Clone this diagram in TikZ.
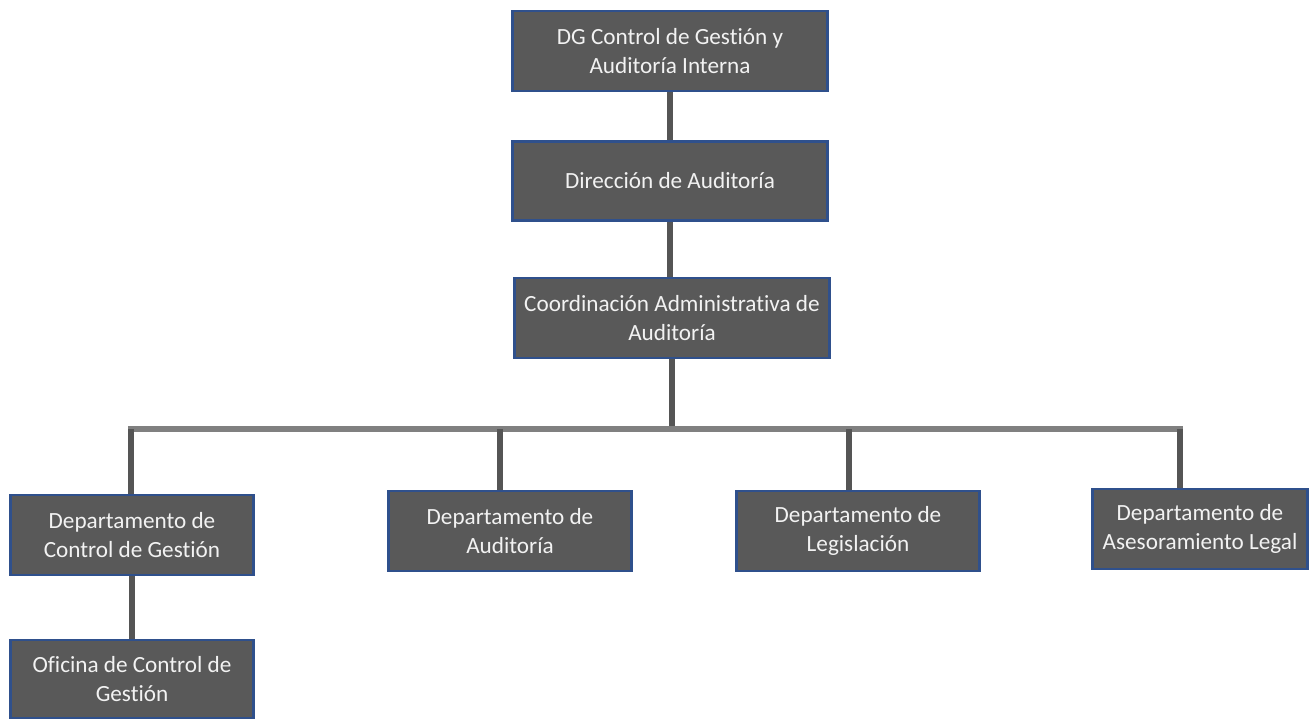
\documentclass[tikz,border=0pt]{standalone}
\usepackage{fontspec}
\setmainfont{Carlito}[Ligatures=NoCommon]
\definecolor{boxgray}{RGB}{89, 89, 89}
\definecolor{boxblue}{RGB}{47, 80, 140}
\definecolor{linkgray}{RGB}{85, 85, 85}
\definecolor{busgray}{RGB}{128, 128, 128}
\definecolor{textwhite}{RGB}{242, 242, 242}
\usetikzlibrary{positioning}
\tikzset{
	unit/.style={rectangle, draw=boxblue, fill=boxgray, line width=1.6pt, align=center, text=textwhite, minimum width=4.85cm, minimum height=1.6cm, font=\fontsize{13.2}{17}\selectfont},
	topunit/.style={unit, minimum width=6.3cm},
	link/.style={line width=3.2pt, draw=linkgray},
	busline/.style={line width=3.6pt, draw=busgray, line cap=rect},
}

\begin{document}
\begin{tikzpicture}[x=0.02cm, y=-0.02cm]
		\useasboundingbox (0,0) rectangle (1313,720);
		\coordinate (bus) at (672,429);
		\coordinate (b1) at (131,429);
		\coordinate (b2) at (500,429);
		\coordinate (b3) at (849,429);
		\coordinate (b4) at (1180,429);
		\node[topunit] (dg) at (670,51) {DG Control de Gestión y\\Auditoría Interna};
		\node[topunit, minimum height=1.58cm] (dir) at (670,181) {Dirección de Auditoría};
		\node[topunit] (coord) at (672,318) {Coordinación Administrativa de\\Auditoría};
		\node[unit] (ctrl) at (132,535) {Departamento de\\Control de Gestión};
		\node[unit] (aud) at (510,531) {Departamento de\\Auditoría};
		\node[unit] (leg) at (858,531) {Departamento de\\Legislación};
		\node[unit, minimum width=4.3cm] (ase) at (1200,529) {Departamento de\\Asesoramiento Legal};
		\node[unit, minimum height=1.56cm] (ofi) at (132,679) {Oficina de Control de\\Gestión};
		% connectors
		\draw[link] (dg.south) -- (dir.north);
		\draw[link] (dir.south) -- (dir.south |- coord.north);
		\draw[link] (coord.south) -- (bus);
		\draw[busline] (b1) -- (b4);
		\draw[link] (b1) -- (b1 |- ctrl.north);
		\draw[link] (b2) -- (b2 |- aud.north);
		\draw[link] (b3) -- (b3 |- leg.north);
		\draw[link] (b4) -- (b4 |- ase.north);
		\draw[link] (ctrl.south) -- (ofi.north);
	\end{tikzpicture}
\end{document}
